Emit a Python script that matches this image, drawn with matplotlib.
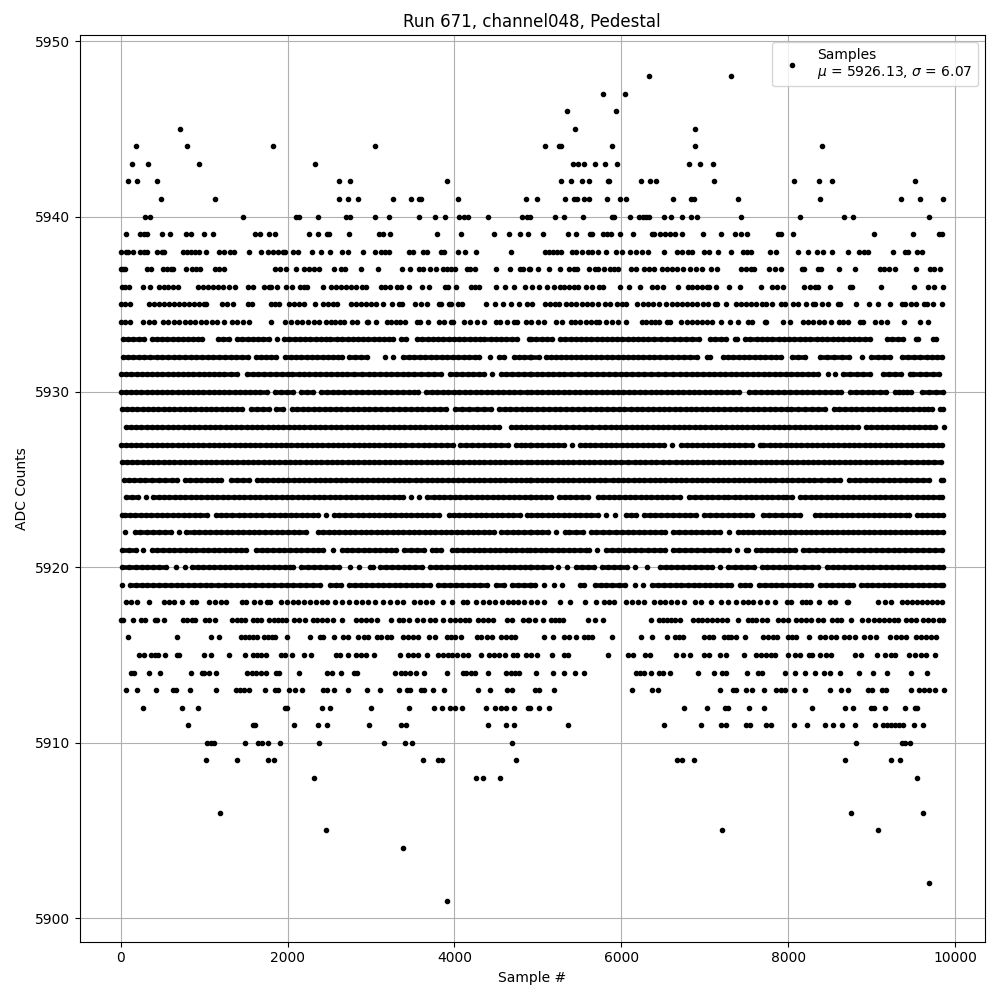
#!/usr/bin/env python3
"""Pedestal samples for run 671, channel048. Sample numbers are listed per ADC level."""

import matplotlib
matplotlib.use("Agg")
import matplotlib.pyplot as plt

adc_5948 = [6332, 7316]
adc_5947 = [5780, 6044]
adc_5946 = [5348, 5936]
adc_5945 = [716, 5444, 6884]
adc_5944 = [188, 800, 1820, 3044, 5084, 5252, 5280, 5888, 6884, 8408]
adc_5943 = [140, 332, 944, 2324, 5420, 5480, 5552, 5684, 5804, 5948, 6812, 6944, 7100]
adc_5942 = [92, 200, 440, 2612, 2744, 3908, 5276, 5396, 5528, 5612, 5840, 5852, 6236, 6344, 6416, 7112, 8072, 8372, 8528, 9524]
adc_5941 = [488, 1136, 2612, 2720, 2840, 3260, 3476, 3572, 3604, 4040, 4856, 4988, 5324, 5432, 5468, 5552, 5612, 5828, 5984, 6056, 6620, 6836, 6872, 7400, 8384, 9356, 9584, 9848]
adc_5940 = [296, 356, 1460, 2100, 2132, 2360, 2696, 2744, 3044, 3212, 3572, 3764, 3884, 4060, 4108, 4160, 4400, 4808, 4868, 4904, 5204, 5312, 5540, 5888, 5912, 6104, 6212, 6260, 6296, 6332, 6512, 6596, 6728, 6836, 6908, 7436, 8144, 8672, 8780, 9692]
adc_5939 = [60, 236, 284, 320, 500, 596, 788, 848, 1004, 1112, 1604, 1664, 1772, 1844, 2252, 2368, 2468, 2492, 2732, 3092, 3144, 3224, 3788, 4080, 4472, 4652, 4784, 4880, 5060, 5360, 5456, 5624, 5648, 5780, 5828, 5876, 5984, 6140, 6368, 6392, 6464, 6524, 6584, 6644, 6728, 6980, 7196, 7364, 7436, 7508, 7880, 7916, 8060, 9032, 9500, 9800, 9836]
adc_5938 = [0, 60, 92, 152, 236, 284, 320, 440, 500, 524, 752, 800, 848, 896, 944, 1028, 1184, 1244, 1304, 1352, 1532, 1676, 1760, 1820, 1880, 1940, 1964, 2060, 2120, 2288, 2396, 2504, 2648, 2720, 2904, 3044, 3116, 3164, 3212, 3452, 3500, 3620, 3668, 3836, 3872, 4040, 4120, 4256, 4676, 5080, 5128, 5176, 5224, 5272, 5408, 5456, 5528, 5600, 5648, 5720, 5816, 5936, 6008, 6104, 6176, 6248, 6320, 6512, 6668, 6728, 6800, 6848, 6992, 7052, 7160, 7316, 7460, 7508, 7556, 7784, 7856, 8120, 8240, 8348, 8420, 8528, 8720, 8852, 8912, 8960, 9260, 9404, 9440, 9548, 9608]
adc_5937 = [0, 28, 52, 320, 368, 512, 560, 608, 632, 788, 860, 908, 956, 1136, 1184, 1244, 1844, 1904, 1976, 2096, 2192, 2252, 2312, 2372, 2552, 2636, 2684, 2876, 3080, 3368, 3472, 3572, 3620, 3704, 3776, 3860, 3908, 3956, 4004, 4148, 4184, 4244, 4496, 4664, 4784, 4820, 4892, 4904, 5000, 5132, 5264, 5372, 5432, 5468, 5612, 5684, 5720, 5792, 5864, 5912, 5960, 6116, 6176, 6272, 6332, 6392, 6488, 6548, 6608, 6668, 6740, 6824, 6896, 6968, 7076, 7148, 7436, 7496, 7556, 7592, 7772, 7844, 7916, 8168, 8192, 8360, 8396, 8612, 8804, 9104, 9152, 9212, 9284, 9536, 9704, 9752, 9812]
adc_5936 = [20, 52, 100, 272, 348, 464, 524, 572, 632, 692, 932, 992, 1052, 1112, 1172, 1232, 1292, 1364, 1520, 1580, 1712, 1772, 1796, 1868, 1980, 2048, 2144, 2192, 2228, 2420, 2516, 2576, 2636, 2696, 2756, 2816, 2888, 2936, 3116, 3164, 3224, 3308, 3356, 3456, 3608, 3692, 3884, 3920, 4016, 4196, 4244, 4292, 4496, 4604, 4712, 4844, 4928, 5012, 5108, 5192, 5264, 5312, 5372, 5432, 5480, 5576, 5648, 5732, 5780, 5984, 6092, 6224, 6368, 6428, 6500, 6680, 6800, 6848, 6908, 6968, 7028, 7052, 7136, 7292, 7424, 7676, 7808, 7868, 7940, 8192, 8264, 8324, 8360, 8504, 8744, 8768, 9116, 9512, 9680, 9752, 9848]
adc_5935 = [0, 50, 110, 336, 396, 456, 516, 576, 636, 696, 756, 816, 880, 940, 1000, 1028, 1212, 1272, 1340, 1530, 1570, 1800, 1850, 1892, 2016, 2075, 2135, 2196, 2324, 2428, 2484, 2540, 2596, 2760, 2820, 2880, 2940, 3000, 3060, 3144, 3248, 3340, 3368, 3532, 3600, 3668, 3812, 3844, 3932, 3956, 4044, 4088, 4372, 4488, 4580, 4680, 4772, 4868, 4928, 5080, 5140, 5200, 5256, 5332, 5396, 5460, 5524, 5588, 5652, 5716, 5808, 5864, 5952, 6004, 6056, 6192, 6256, 6320, 6384, 6448, 6540, 6602, 6664, 6726, 6788, 6850, 6912, 6974, 7036, 7120, 7144, 7248, 7368, 7428, 7488, 7548, 7608, 7680, 7728, 7808, 7912, 7956, 8060, 8116, 8212, 8300, 8316, 8400, 8476, 8592, 8616, 8808, 8968, 9076, 9224, 9368, 9396, 9472, 9528, 9632, 9668, 9740, 9836]
adc_5934 = [0, 54, 108, 264, 334, 404, 504, 570, 635, 700, 765, 830, 895, 960, 1025, 1090, 1156, 1236, 1332, 1388, 1460, 1532, 1796, 1972, 2040, 2108, 2176, 2244, 2312, 2380, 2460, 2516, 2572, 2628, 2680, 2772, 2828, 2952, 2968, 3060, 3192, 3244, 3296, 3348, 3412, 3552, 3588, 3680, 3812, 3876, 3964, 3988, 4112, 4180, 4272, 4348, 4492, 4548, 4628, 4716, 4748, 4852, 4920, 5000, 5076, 5220, 5288, 5392, 5450, 5510, 5570, 5630, 5690, 5728, 5820, 5888, 5956, 6056, 6248, 6300, 6352, 6404, 6456, 6552, 6584, 6720, 6782, 6844, 6906, 6968, 7030, 7088, 7196, 7304, 7400, 7512, 7568, 7720, 7736, 7940, 8016, 8172, 8237, 8302, 8367, 8432, 8508, 8604, 8660, 8716, 8860, 8896, 9040, 9112, 9184, 9392, 9576, 9680]
adc_5933 = [24, 85, 150, 215, 280, 372, 435, 500, 560, 625, 690, 750, 810, 870, 930, 980, 1164, 1228, 1292, 1392, 1455, 1520, 1580, 1645, 1710, 1772, 1868, 1960, 2022, 2085, 2148, 2210, 2272, 2335, 2398, 2460, 2508, 2592, 2655, 2718, 2780, 2843, 2906, 2969, 3032, 3095, 3158, 3221, 3268, 3364, 3420, 3552, 3615, 3678, 3741, 3804, 3867, 3930, 3993, 4056, 4119, 4182, 4245, 4308, 4348, 4432, 4495, 4558, 4621, 4684, 4748, 4892, 4920, 4982, 5044, 5106, 5168, 5268, 5330, 5392, 5454, 5516, 5578, 5640, 5702, 5764, 5826, 5888, 5950, 6012, 6074, 6136, 6198, 6260, 6322, 6396, 6480, 6544, 6632, 6704, 6776, 6848, 6936, 7056, 7122, 7188, 7256, 7360, 7384, 7476, 7536, 7620, 7682, 7744, 7808, 7888, 7950, 8012, 8074, 8136, 8198, 8256, 8340, 8404, 8468, 8532, 8596, 8660, 8724, 8788, 8852, 8916, 8976, 9180, 9246, 9312, 9376, 9528, 9560, 9740, 9776]
adc_5932 = [24, 88, 152, 216, 280, 348, 432, 500, 568, 636, 704, 772, 840, 908, 976, 1044, 1112, 1180, 1248, 1316, 1384, 1452, 1520, 1620, 1680, 1740, 1800, 1856, 1972, 2036, 2100, 2164, 2228, 2292, 2356, 2420, 2484, 2548, 2600, 2648, 2740, 2812, 2884, 2956, 3164, 3260, 3384, 3450, 3516, 3582, 3648, 3714, 3780, 3846, 3912, 3978, 4044, 4110, 4176, 4242, 4288, 4420, 4532, 4588, 4712, 4775, 4838, 4900, 4920, 5008, 5100, 5160, 5220, 5280, 5340, 5400, 5460, 5520, 5580, 5640, 5700, 5756, 5832, 5893, 5954, 6015, 6076, 6137, 6198, 6256, 6328, 6388, 6460, 6540, 6610, 6680, 6750, 6820, 6904, 7020, 7064, 7212, 7276, 7340, 7404, 7468, 7532, 7596, 7660, 7724, 7788, 7852, 7916, 8040, 8118, 8196, 8376, 8464, 8552, 8640, 8728, 8888, 8996, 9080, 9148, 9216, 9360, 9432, 9504, 9576, 9660, 9720, 9780, 9836]
adc_5931 = [4, 66, 128, 190, 252, 314, 376, 438, 500, 562, 624, 686, 748, 810, 872, 934, 996, 1058, 1120, 1182, 1244, 1316, 1388, 1512, 1580, 1650, 1720, 1790, 1860, 1928, 2004, 2056, 2132, 2197, 2262, 2327, 2392, 2457, 2522, 2587, 2652, 2716, 2800, 2888, 2972, 3040, 3108, 3176, 3244, 3312, 3380, 3448, 3516, 3600, 3680, 3760, 3840, 3952, 4020, 4088, 4156, 4224, 4292, 4356, 4452, 4552, 4622, 4692, 4762, 4832, 4900, 4920, 4986, 5052, 5118, 5184, 5250, 5316, 5392, 5480, 5568, 5640, 5710, 5780, 5850, 5920, 5990, 6060, 6130, 6200, 6276, 6352, 6440, 6528, 6616, 6704, 6780, 6846, 6912, 6978, 7044, 7110, 7176, 7242, 7308, 7374, 7440, 7506, 7572, 7638, 7704, 7770, 7836, 7902, 7968, 8034, 8100, 8166, 8232, 8298, 8356, 8472, 8564, 8656, 8740, 8820, 8900, 8984, 9132, 9206, 9280, 9356, 9460, 9496, 9580, 9656, 9732, 9808]
adc_5930 = [0, 62, 124, 186, 248, 310, 372, 434, 496, 558, 620, 682, 744, 806, 868, 930, 992, 1054, 1116, 1178, 1240, 1302, 1364, 1426, 1488, 1550, 1612, 1674, 1748, 1852, 1924, 1996, 2068, 2160, 2234, 2308, 2400, 2470, 2540, 2610, 2680, 2750, 2820, 2890, 2960, 3030, 3100, 3170, 3240, 3310, 3380, 3450, 3520, 3568, 3660, 3726, 3792, 3858, 3924, 3990, 4056, 4122, 4188, 4254, 4320, 4386, 4452, 4518, 4584, 4650, 4716, 4782, 4868, 4920, 4985, 5050, 5115, 5180, 5245, 5310, 5375, 5440, 5505, 5570, 5635, 5700, 5765, 5830, 5895, 5960, 6025, 6090, 6155, 6220, 6285, 6350, 6415, 6480, 6545, 6610, 6675, 6740, 6805, 6870, 6935, 7000, 7065, 7130, 7195, 7260, 7335, 7408, 7528, 7600, 7670, 7740, 7810, 7880, 7950, 8020, 8090, 8160, 8230, 8300, 8370, 8440, 8510, 8580, 8636, 8740, 8810, 8880, 8950, 9020, 9098, 9176, 9280, 9330, 9378, 9425, 9476, 9608, 9690, 9772, 9856]
adc_5929 = [12, 75, 138, 201, 264, 327, 390, 453, 516, 579, 642, 705, 768, 831, 894, 957, 1020, 1083, 1146, 1209, 1272, 1335, 1398, 1456, 1556, 1628, 1700, 1772, 1864, 1948, 2052, 2118, 2184, 2250, 2316, 2382, 2448, 2514, 2580, 2646, 2712, 2778, 2844, 2910, 2976, 3042, 3116, 3196, 3266, 3336, 3406, 3476, 3546, 3616, 3686, 3756, 3828, 3904, 4012, 4092, 4178, 4264, 4350, 4436, 4532, 4600, 4668, 4736, 4804, 4868, 4920, 4990, 5060, 5130, 5200, 5270, 5340, 5410, 5480, 5550, 5620, 5690, 5760, 5830, 5900, 5970, 6036, 6120, 6185, 6250, 6315, 6380, 6445, 6510, 6575, 6640, 6705, 6770, 6835, 6900, 6965, 7030, 7095, 7156, 7232, 7300, 7368, 7436, 7504, 7572, 7640, 7708, 7776, 7844, 7912, 7980, 8036, 8120, 8200, 8280, 8360, 8444, 8544, 8612, 8680, 8748, 8816, 8884, 8952, 9020, 9088, 9156, 9224, 9292, 9360, 9428, 9496, 9564, 9632, 9680, 9728, 9820, 9856]
adc_5928 = [60, 123, 186, 249, 312, 375, 438, 501, 564, 627, 690, 753, 816, 879, 942, 1005, 1068, 1131, 1194, 1257, 1320, 1383, 1446, 1509, 1572, 1635, 1698, 1761, 1824, 1887, 1950, 2013, 2076, 2139, 2202, 2265, 2328, 2391, 2454, 2517, 2580, 2643, 2706, 2769, 2832, 2895, 2958, 3021, 3084, 3147, 3210, 3273, 3336, 3399, 3462, 3525, 3588, 3651, 3714, 3777, 3840, 3903, 3966, 4029, 4092, 4155, 4218, 4281, 4344, 4407, 4470, 4528, 4672, 4735, 4800, 4862, 4920, 4990, 5060, 5130, 5200, 5270, 5336, 5420, 5497, 5574, 5651, 5728, 5808, 5871, 5934, 5997, 6060, 6123, 6186, 6249, 6312, 6375, 6438, 6501, 6564, 6627, 6690, 6753, 6816, 6879, 6942, 7005, 7068, 7131, 7194, 7257, 7320, 7383, 7446, 7509, 7572, 7635, 7698, 7761, 7824, 7887, 7950, 8013, 8076, 8139, 8202, 8265, 8328, 8391, 8454, 8517, 8580, 8643, 8706, 8769, 8836, 8932, 8996, 9060, 9124, 9188, 9252, 9316, 9380, 9444, 9508, 9572, 9636, 9700, 9764, 9864]
adc_5927 = [0, 62, 124, 186, 248, 310, 372, 434, 496, 558, 620, 682, 744, 806, 868, 930, 992, 1054, 1116, 1178, 1240, 1302, 1364, 1426, 1488, 1550, 1612, 1674, 1736, 1798, 1860, 1922, 1984, 2046, 2108, 2170, 2232, 2294, 2356, 2418, 2480, 2542, 2604, 2666, 2728, 2790, 2852, 2914, 2976, 3038, 3100, 3162, 3224, 3286, 3348, 3408, 3492, 3560, 3630, 3700, 3770, 3840, 3910, 3980, 4072, 4140, 4210, 4280, 4350, 4420, 4490, 4560, 4636, 4732, 4800, 4850, 4900, 4920, 4985, 5050, 5115, 5180, 5245, 5310, 5408, 5500, 5563, 5626, 5689, 5752, 5815, 5878, 5941, 6004, 6067, 6130, 6193, 6256, 6319, 6382, 6445, 6508, 6604, 6720, 6783, 6846, 6909, 6972, 7035, 7098, 7161, 7224, 7287, 7350, 7413, 7476, 7564, 7660, 7696, 7780, 7843, 7906, 7969, 8032, 8095, 8158, 8221, 8284, 8347, 8410, 8473, 8536, 8599, 8662, 8725, 8788, 8851, 8914, 8977, 9040, 9103, 9166, 9229, 9292, 9355, 9418, 9481, 9544, 9607, 9670, 9733, 9796, 9836]
adc_5926 = [12, 75, 138, 201, 264, 327, 390, 453, 516, 579, 642, 705, 768, 831, 894, 957, 1020, 1083, 1146, 1209, 1272, 1335, 1398, 1461, 1524, 1587, 1650, 1713, 1776, 1839, 1902, 1965, 2028, 2091, 2154, 2217, 2280, 2343, 2406, 2469, 2532, 2595, 2658, 2721, 2784, 2847, 2910, 2973, 3036, 3099, 3162, 3225, 3288, 3351, 3414, 3477, 3540, 3603, 3666, 3729, 3792, 3855, 3918, 3981, 4044, 4107, 4170, 4233, 4296, 4359, 4422, 4485, 4548, 4611, 4674, 4737, 4800, 4868, 4920, 4983, 5046, 5109, 5172, 5235, 5298, 5361, 5424, 5487, 5550, 5613, 5676, 5739, 5802, 5865, 5928, 5991, 6076, 6160, 6224, 6288, 6352, 6416, 6500, 6576, 6660, 6723, 6786, 6849, 6912, 6975, 7038, 7101, 7164, 7227, 7290, 7353, 7416, 7479, 7542, 7605, 7668, 7731, 7794, 7857, 7920, 7983, 8046, 8109, 8172, 8235, 8298, 8361, 8424, 8487, 8550, 8613, 8676, 8739, 8802, 8865, 8928, 8991, 9054, 9117, 9180, 9243, 9316, 9400, 9470, 9540, 9610, 9680, 9750, 9824]
adc_5925 = [36, 100, 165, 230, 295, 380, 460, 535, 610, 680, 772, 835, 900, 965, 1030, 1095, 1160, 1208, 1324, 1396, 1468, 1540, 1632, 1695, 1758, 1821, 1884, 1947, 2010, 2073, 2136, 2199, 2262, 2325, 2388, 2451, 2514, 2577, 2640, 2703, 2766, 2829, 2892, 2955, 3018, 3081, 3144, 3207, 3270, 3333, 3396, 3460, 3540, 3603, 3666, 3729, 3792, 3855, 3918, 3981, 4044, 4107, 4170, 4233, 4296, 4359, 4422, 4485, 4548, 4611, 4674, 4737, 4800, 4860, 4900, 4920, 4983, 5046, 5109, 5172, 5235, 5298, 5361, 5424, 5487, 5550, 5613, 5676, 5739, 5808, 5896, 5959, 6022, 6085, 6148, 6211, 6274, 6337, 6400, 6463, 6526, 6589, 6652, 6715, 6778, 6841, 6904, 6967, 7030, 7093, 7156, 7219, 7282, 7345, 7408, 7471, 7534, 7597, 7660, 7723, 7786, 7836, 7920, 7985, 8050, 8115, 8180, 8245, 8310, 8396, 8480, 8550, 8624, 8728, 8796, 8864, 8932, 9000, 9068, 9136, 9204, 9272, 9340, 9408, 9476, 9544, 9612, 9688, 9828, 9856]
adc_5924 = [60, 135, 208, 300, 392, 456, 520, 584, 648, 712, 776, 840, 904, 968, 1032, 1096, 1160, 1224, 1288, 1352, 1416, 1480, 1544, 1608, 1672, 1736, 1800, 1864, 1928, 1992, 2056, 2120, 2184, 2248, 2312, 2376, 2440, 2504, 2568, 2632, 2696, 2760, 2824, 2888, 2952, 3016, 3080, 3144, 3208, 3272, 3336, 3388, 3480, 3575, 3668, 3752, 3816, 3880, 3944, 4008, 4072, 4136, 4200, 4264, 4328, 4392, 4456, 4520, 4584, 4648, 4712, 4776, 4840, 4900, 4920, 4980, 5040, 5100, 5160, 5252, 5320, 5390, 5460, 5530, 5596, 5720, 5784, 5848, 5912, 5976, 6040, 6104, 6168, 6232, 6296, 6360, 6424, 6488, 6552, 6616, 6704, 6808, 6880, 6950, 7020, 7090, 7160, 7230, 7276, 7360, 7424, 7488, 7552, 7616, 7680, 7744, 7808, 7872, 7936, 7976, 8040, 8140, 8204, 8268, 8332, 8396, 8460, 8524, 8588, 8652, 8716, 8780, 8844, 8908, 8972, 9036, 9100, 9164, 9228, 9292, 9356, 9420, 9484, 9548, 9612, 9676, 9740, 9804, 9836]
adc_5923 = [12, 50, 112, 175, 238, 300, 365, 430, 495, 560, 625, 690, 755, 820, 885, 948, 1032, 1140, 1200, 1260, 1328, 1412, 1482, 1552, 1622, 1696, 1772, 1838, 1904, 1970, 2036, 2102, 2168, 2234, 2300, 2366, 2460, 2552, 2620, 2688, 2756, 2844, 2908, 2972, 3036, 3100, 3164, 3228, 3292, 3356, 3420, 3484, 3548, 3612, 3676, 3740, 3816, 3932, 3996, 4060, 4124, 4188, 4252, 4316, 4380, 4444, 4508, 4572, 4636, 4700, 4780, 4872, 4920, 4985, 5050, 5115, 5180, 5245, 5310, 5375, 5440, 5505, 5570, 5635, 5716, 5812, 5924, 6060, 6120, 6176, 6268, 6338, 6408, 6478, 6548, 6618, 6688, 6758, 6824, 6896, 6988, 7060, 7132, 7204, 7276, 7348, 7420, 7492, 7568, 7692, 7768, 7844, 7920, 7996, 8072, 8144, 8320, 8384, 8448, 8512, 8576, 8640, 8704, 8768, 8832, 8896, 8960, 9024, 9088, 9152, 9216, 9280, 9344, 9410, 9448, 9540, 9604, 9668, 9732, 9796, 9856]
adc_5922 = [52, 172, 228, 312, 384, 456, 528, 604, 696, 788, 876, 942, 1008, 1074, 1140, 1206, 1272, 1338, 1404, 1470, 1536, 1602, 1656, 1732, 1800, 1868, 1936, 2004, 2072, 2140, 2216, 2364, 2428, 2492, 2556, 2620, 2684, 2748, 2812, 2876, 2940, 3004, 3068, 3132, 3196, 3260, 3324, 3388, 3452, 3516, 3580, 3644, 3708, 3772, 3836, 3900, 3964, 4028, 4092, 4156, 4220, 4284, 4348, 4412, 4468, 4560, 4628, 4696, 4764, 4832, 4900, 4920, 4985, 5050, 5115, 5216, 5328, 5368, 5456, 5540, 5632, 5700, 5780, 5856, 5936, 6008, 6074, 6140, 6206, 6272, 6338, 6404, 6470, 6524, 6620, 6690, 6760, 6830, 6900, 6970, 7040, 7110, 7180, 7288, 7392, 7455, 7518, 7581, 7644, 7707, 7770, 7833, 7896, 7959, 8022, 8085, 8148, 8211, 8274, 8337, 8400, 8463, 8526, 8589, 8652, 8715, 8778, 8841, 8904, 8967, 9030, 9093, 9156, 9219, 9282, 9345, 9408, 9471, 9534, 9597, 9660, 9723, 9786, 9848]
adc_5921 = [12, 95, 180, 272, 372, 440, 508, 576, 644, 712, 780, 848, 908, 984, 1050, 1116, 1182, 1248, 1314, 1380, 1446, 1496, 1620, 1688, 1756, 1824, 1892, 1960, 2028, 2096, 2164, 2232, 2300, 2368, 2428, 2540, 2652, 2710, 2768, 2844, 2910, 2976, 3042, 3108, 3174, 3240, 3296, 3396, 3476, 3556, 3640, 3732, 3784, 3836, 3972, 4036, 4100, 4164, 4228, 4292, 4356, 4420, 4484, 4548, 4612, 4676, 4740, 4804, 4868, 4900, 4968, 5035, 5102, 5169, 5236, 5303, 5370, 5437, 5504, 5571, 5616, 5712, 5816, 5892, 5960, 6028, 6096, 6164, 6232, 6316, 6392, 6458, 6524, 6620, 6692, 6764, 6836, 6908, 6988, 7064, 7140, 7216, 7292, 7388, 7488, 7516, 7608, 7675, 7742, 7809, 7876, 7943, 8010, 8076, 8180, 8254, 8328, 8412, 8482, 8552, 8622, 8692, 8762, 8836, 8912, 8982, 9052, 9122, 9192, 9262, 9332, 9402, 9472, 9542, 9612, 9682, 9756, 9840]
adc_5920 = [12, 96, 180, 250, 320, 390, 465, 540, 660, 768, 860, 925, 990, 1055, 1120, 1185, 1250, 1315, 1380, 1445, 1510, 1575, 1640, 1705, 1770, 1835, 1900, 1965, 2030, 2068, 2160, 2244, 2316, 2388, 2460, 2540, 2620, 2752, 2856, 2984, 3020, 3112, 3180, 3250, 3320, 3390, 3460, 3528, 3612, 3712, 3776, 3840, 3908, 3992, 4058, 4124, 4190, 4256, 4322, 4388, 4454, 4520, 4586, 4652, 4718, 4784, 4850, 4900, 4920, 4990, 5064, 5152, 5244, 5348, 5460, 5530, 5600, 5676, 5768, 5840, 5910, 5985, 6064, 6160, 6308, 6460, 6530, 6600, 6670, 6740, 6810, 6880, 6950, 7020, 7090, 7184, 7280, 7356, 7432, 7508, 7584, 7680, 7750, 7820, 7890, 7960, 8016, 8100, 8190, 8280, 8356, 8460, 8530, 8600, 8670, 8740, 8810, 8880, 8950, 9016, 9100, 9170, 9240, 9310, 9380, 9450, 9520, 9590, 9660, 9730, 9800, 9856]
adc_5919 = [20, 112, 180, 250, 320, 390, 460, 530, 600, 670, 740, 810, 880, 950, 1020, 1088, 1172, 1245, 1318, 1391, 1464, 1537, 1610, 1688, 1764, 1840, 1916, 1992, 2068, 2144, 2220, 2300, 2388, 2512, 2575, 2636, 2740, 2808, 2876, 2944, 3012, 3080, 3148, 3216, 3284, 3352, 3420, 3488, 3556, 3624, 3708, 3804, 3876, 3948, 4020, 4092, 4164, 4236, 4308, 4388, 4500, 4588, 4684, 4756, 4828, 4900, 4920, 4968, 5076, 5192, 5288, 5500, 5556, 5680, 5750, 5820, 5890, 5976, 6048, 6168, 6264, 6368, 6440, 6512, 6584, 6656, 6716, 6800, 6866, 6932, 6998, 7064, 7130, 7196, 7262, 7316, 7420, 7480, 7536, 7648, 7718, 7788, 7858, 7928, 7998, 8068, 8138, 8208, 8276, 8380, 8450, 8520, 8590, 8660, 8730, 8776, 8872, 8940, 9008, 9076, 9144, 9212, 9280, 9348, 9416, 9484, 9552, 9620, 9688, 9756, 9824, 9856]
adc_5918 = [60, 128, 196, 340, 516, 576, 636, 732, 860, 908, 1060, 1130, 1200, 1260, 1452, 1500, 1600, 1668, 1752, 1788, 1920, 1990, 2060, 2130, 2200, 2270, 2340, 2410, 2476, 2564, 2648, 2740, 2816, 2892, 2968, 3052, 3148, 3232, 3310, 3388, 3512, 3588, 3660, 3732, 3860, 3968, 4104, 4148, 4260, 4336, 4412, 4488, 4572, 4636, 4700, 4764, 4828, 4920, 4985, 5076, 5268, 5388, 5568, 5700, 5792, 5854, 5916, 6060, 6130, 6200, 6276, 6392, 6460, 6528, 6596, 6664, 6748, 6880, 6956, 7076, 7192, 7280, 7368, 7460, 7518, 7576, 7660, 7748, 7836, 7980, 8036, 8160, 8212, 8264, 8368, 8500, 8556, 8700, 8716, 9080, 9160, 9236, 9360, 9420, 9480, 9540, 9600, 9660, 9720, 9780, 9836]
adc_5917 = [0, 28, 152, 248, 296, 412, 436, 524, 752, 800, 860, 896, 1016, 1064, 1136, 1328, 1388, 1436, 1484, 1580, 1628, 1676, 1772, 1832, 1880, 1928, 1976, 2072, 2132, 2204, 2300, 2348, 2408, 2468, 2540, 2648, 2820, 2876, 2936, 2996, 3068, 3236, 3332, 3388, 3452, 3548, 3620, 3704, 3764, 3860, 3944, 4004, 4064, 4124, 4172, 4280, 4340, 4400, 4460, 4628, 4688, 4820, 4880, 4888, 4960, 5060, 5156, 5204, 5252, 5300, 5600, 5684, 5780, 6356, 6452, 6500, 6548, 6596, 6644, 6704, 6860, 6920, 6968, 7028, 7088, 7148, 7208, 7268, 7400, 7520, 7568, 7616, 7688, 7748, 7880, 7940, 8000, 8096, 8156, 8216, 8276, 8360, 8420, 8528, 8588, 8636, 8756, 8888, 8960, 9032, 9092, 9152, 9212, 9272, 9320, 9416, 9476, 9536, 9620, 9680, 9740, 9800, 9848]
adc_5916 = [92, 680, 1088, 1184, 1436, 1484, 1532, 1580, 1628, 1712, 1760, 1808, 1844, 1996, 2264, 2384, 2428, 2552, 2660, 2720, 2840, 2912, 2960, 3068, 3116, 3188, 3236, 3388, 3440, 3500, 3560, 3692, 3764, 3908, 3956, 4004, 4076, 4268, 4316, 4388, 4448, 4556, 4616, 4676, 4724, 5072, 5180, 5312, 5372, 5456, 5552, 5600, 5648, 5888, 6236, 6368, 6548, 6644, 6692, 6740, 6992, 7052, 7100, 7232, 7280, 7316, 7376, 7484, 7700, 7760, 7820, 7868, 8000, 8048, 8096, 8252, 8384, 8444, 8516, 8576, 8672, 8732, 8804, 8912, 8984, 9056, 9224, 9296, 9356, 9416, 9536, 9596, 9656, 9716, 9776]
adc_5915 = [224, 284, 368, 416, 452, 536, 680, 704, 1004, 1088, 1292, 1484, 1580, 1628, 1676, 1736, 1916, 1964, 2048, 2192, 2276, 2576, 2624, 2728, 2816, 2876, 2936, 3032, 3344, 3440, 3500, 3560, 3668, 3800, 3860, 3920, 3968, 4028, 4100, 4160, 4316, 4412, 4472, 4532, 4604, 4700, 4748, 4856, 4916, 4988, 5168, 5312, 5360, 5840, 6080, 6140, 6284, 6344, 6656, 6740, 6824, 6992, 7052, 7184, 7256, 7472, 7616, 7676, 7736, 7796, 7844, 8000, 8084, 8144, 8252, 8288, 8384, 8456, 8516, 8804, 8876, 9068, 9164, 9236, 9284, 9452, 9524, 9596, 9656, 9764]
adc_5914 = [128, 164, 344, 476, 848, 972, 1004, 1064, 1148, 1508, 1568, 1616, 1676, 1736, 1856, 1892, 2132, 2468, 2528, 2636, 2792, 2828, 3284, 3356, 3404, 3464, 3536, 3632, 3908, 4100, 4136, 4196, 4244, 4400, 4616, 4676, 4724, 4772, 4976, 5180, 5312, 5444, 5552, 6176, 6224, 6272, 6356, 6452, 6500, 6584, 6920, 7112, 7208, 7256, 7508, 7640, 7688, 7964, 8084, 8204, 8320, 8432, 8504, 8624, 8852, 9020, 9188, 9476, 9668]
adc_5913 = [68, 200, 428, 632, 668, 836, 1148, 1376, 1424, 1472, 1532, 1724, 1844, 1880, 2012, 2084, 2168, 2420, 2468, 2552, 2720, 2948, 3104, 3332, 3428, 3464, 3596, 3632, 3740, 3872, 4280, 4424, 4628, 4688, 4964, 5012, 5192, 6128, 6368, 6440, 7184, 7340, 7376, 7496, 7568, 7712, 7856, 7916, 7964, 8072, 8204, 8504, 8636, 8720, 8960, 9008, 9128, 9176, 9476, 9572, 9632, 9692, 9764, 9860]
adc_5912 = [272, 740, 932, 1964, 1988, 2408, 2504, 2996, 3452, 3752, 3848, 3944, 4004, 4088, 4376, 4484, 4556, 4616, 4712, 4880, 4904, 5012, 5132, 6752, 7028, 7244, 7280, 7532, 7712, 8288, 8684, 8780, 8996, 9032, 9164, 9404, 9524, 9548]
adc_5911 = [812, 1580, 1604, 2072, 2360, 2468, 2972, 3356, 3416, 4400, 4616, 4712, 5360, 6512, 6956, 7196, 7256, 7496, 7544, 7736, 7796, 8072, 8228, 8444, 8540, 8648, 8804, 9044, 9140, 9188, 9236, 9284, 9332, 9380, 9512, 9620]
adc_5910 = [1040, 1088, 1124, 1484, 1640, 1688, 1760, 1904, 2372, 3152, 3404, 3488, 4688, 8816, 9368, 9404, 9464]
adc_5909 = [1028, 1388, 1760, 1832, 3620, 3800, 3848, 4736, 6668, 6728, 6872, 8684, 9236, 9344]
adc_5908 = [2312, 4256, 4340, 4544, 9548]
adc_5906 = [1196, 8756, 9620]
adc_5905 = [2456, 7208, 9080]
adc_5904 = [3380]
adc_5902 = [9692]
adc_5901 = [3908]

SAMPLES_BY_ADC = {
    5948: adc_5948, 5947: adc_5947, 5946: adc_5946, 5945: adc_5945, 5944: adc_5944,
    5943: adc_5943, 5942: adc_5942, 5941: adc_5941, 5940: adc_5940, 5939: adc_5939,
    5938: adc_5938, 5937: adc_5937, 5936: adc_5936, 5935: adc_5935, 5934: adc_5934,
    5933: adc_5933, 5932: adc_5932, 5931: adc_5931, 5930: adc_5930, 5929: adc_5929,
    5928: adc_5928, 5927: adc_5927, 5926: adc_5926, 5925: adc_5925, 5924: adc_5924,
    5923: adc_5923, 5922: adc_5922, 5921: adc_5921, 5920: adc_5920, 5919: adc_5919,
    5918: adc_5918, 5917: adc_5917, 5916: adc_5916, 5915: adc_5915, 5914: adc_5914,
    5913: adc_5913, 5912: adc_5912, 5911: adc_5911, 5910: adc_5910, 5909: adc_5909,
    5908: adc_5908, 5906: adc_5906, 5905: adc_5905, 5904: adc_5904, 5902: adc_5902,
    5901: adc_5901,
}

MEAN = 5926.13
SIGMA = 6.07

# overlapping dots in the busy rows merge into bars, so bridge close neighbours
BRIDGE_LEVELS = range(5919, 5934)
BRIDGE_GAP = 90


def main():
    xs, ys = [], []
    y_bar, x_start, x_stop = [], [], []
    for level, samples in SAMPLES_BY_ADC.items():
        xs.extend(samples)
        ys.extend([level] * len(samples))
        if level in BRIDGE_LEVELS:
            for a, b in zip(samples, samples[1:]):
                if b - a <= BRIDGE_GAP:
                    y_bar.append(level)
                    x_start.append(a)
                    x_stop.append(b)

    fig, ax = plt.subplots(figsize=(10, 10), dpi=100)
    ax.plot(xs, ys, "k.", label=f"Samples\n$\\mu$ = {MEAN:.2f}, $\\sigma$ = {SIGMA:.2f}")
    ax.hlines(y_bar, x_start, x_stop, colors="k", linewidth=3.3)
    ax.set_title("Run 671, channel048, Pedestal")
    ax.set_xlabel("Sample #")
    ax.set_ylabel("ADC Counts")
    ax.legend(loc="upper right")
    ax.grid(True)
    fig.tight_layout()
    fig.subplots_adjust(top=0.965)
    fig.savefig("out.png", dpi=100)


if __name__ == "__main__":
    main()
